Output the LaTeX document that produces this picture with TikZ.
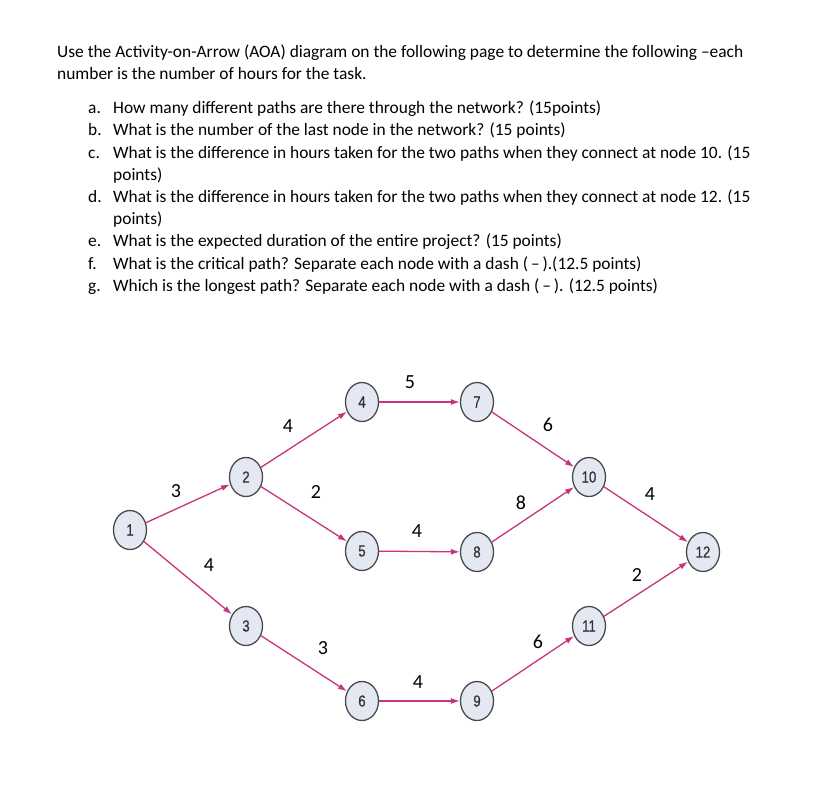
\documentclass[tikz,border=0pt]{standalone}
\usepackage{fontspec}
\setmainfont{Carlito}
\newfontfamily\numfont[FakeStretch=0.82,FakeBold=0.6]{Liberation Sans}
\usetikzlibrary{arrows.meta,shapes.geometric}
\definecolor{arr}{HTML}{C8337F}
\definecolor{nfill}{HTML}{E4E8F2}
\definecolor{nline}{HTML}{4A4A4A}
\tikzset{
  ev/.style={ellipse, draw=nline, line width=1.3pt, fill=nfill, minimum width=33pt, minimum height=39pt, inner sep=0pt, font=\numfont\fontsize{16}{16}\selectfont, text=black!80},
  act/.style={draw=arr, line width=1.3pt, -{Latex[length=9pt,width=6pt]}},
  wt/.style={font=\fontsize{20}{20}\selectfont, inner sep=0pt},
  txt/.style={anchor=base west, inner sep=0pt, font=\fontsize{17.4}{20}\selectfont},
}
\begin{document}
\begin{tikzpicture}[x=1pt,y=-1pt]
\useasboundingbox (0,0) rectangle (838,790);
\fill[white] (0,0) rectangle (838,790);
% text
\node[txt] (l1) at (57,57) {Use the Activity-on-Arrow (AOA) diagram on the following page to determine the following –each};
\node[txt] (l2) at (57,79) {number is the number of hours for the task.};
\node[txt] (la) at (88,113) {a.};
\node[txt] (ta) at (113,113) {How many different paths are there through the network? (15points)};
\node[txt] (lb) at (88,135) {b.};
\node[txt] (tb) at (113,135) {What is the number of the last node in the network? (15 points)};
\node[txt] (lc) at (88,158) {c.};
\node[txt] (tc) at (113,158) {What is the difference in hours taken for the two paths when they connect at node 10. (15};
\node[txt] (tc2) at (113,180) {points)};
\node[txt] (ld) at (88,202) {d.};
\node[txt] (td) at (113,202) {What is the difference in hours taken for the two paths when they connect at node 12. (15};
\node[txt] (td2) at (113,224) {points)};
\node[txt] (le) at (88,246) {e.};
\node[txt] (te) at (113,246) {What is the expected duration of the entire project? (15 points)};
\node[txt] (lf) at (88,269) {f.};
\node[txt] (tf) at (113,269) {What is the critical path? Separate each node with a dash (\,–\,).(12.5 points)};
\node[txt] (lg) at (88,291) {g.};
\node[txt] (tg) at (113,291) {Which is the longest path? Separate each node with a dash (\,–\,). (12.5 points)};
% events
\node[ev] (n1) at (130,530) {1};
\node[ev] (n2) at (246,477) {2};
\node[ev] (n3) at (246,626) {3};
\node[ev] (n4) at (362,402) {4};
\node[ev] (n5) at (362,551) {5};
\node[ev] (n6) at (362,701) {6};
\node[ev] (n7) at (477,402) {7};
\node[ev] (n8) at (477,552) {8};
\node[ev] (n9) at (477,701) {9};
\node[ev] (n10) at (589,477) {10};
\node[ev] (n11) at (589,626) {11};
\node[ev] (n12) at (703,552) {12};
% activities
\draw[act] (n1) -- (n2);
\draw[act] (n1) -- (n3);
\draw[act] (n2) -- (n4);
\draw[act] (n2) -- (n5);
\draw[act] (n3) -- (n6);
\draw[act] (n4) -- (n7);
\draw[act] (n5) -- (n8);
\draw[act] (n6) -- (n9);
\draw[act] (n7) -- (n10);
\draw[act] (n8) -- (n10);
\draw[act] (n9) -- (n11);
\draw[act] (n10) -- (n12);
\draw[act] (n11) -- (n12);
% weights
\node[wt] (w12) at (176,491) {3};
\node[wt] (w13) at (209,565) {4};
\node[wt] (w24) at (288,426) {4};
\node[wt] (w25) at (316,492) {2};
\node[wt] (w36) at (323,648) {3};
\node[wt] (w47) at (410,382) {5};
\node[wt] (w58) at (417,531) {4};
\node[wt] (w69) at (418,682) {4};
\node[wt] (w710) at (548,425) {6};
\node[wt] (w810) at (521,503) {8};
\node[wt] (w911) at (538,642) {6};
\node[wt] (w1012) at (650,494) {4};
\node[wt] (w1112) at (637,575) {2};
\end{tikzpicture}
\end{document}
